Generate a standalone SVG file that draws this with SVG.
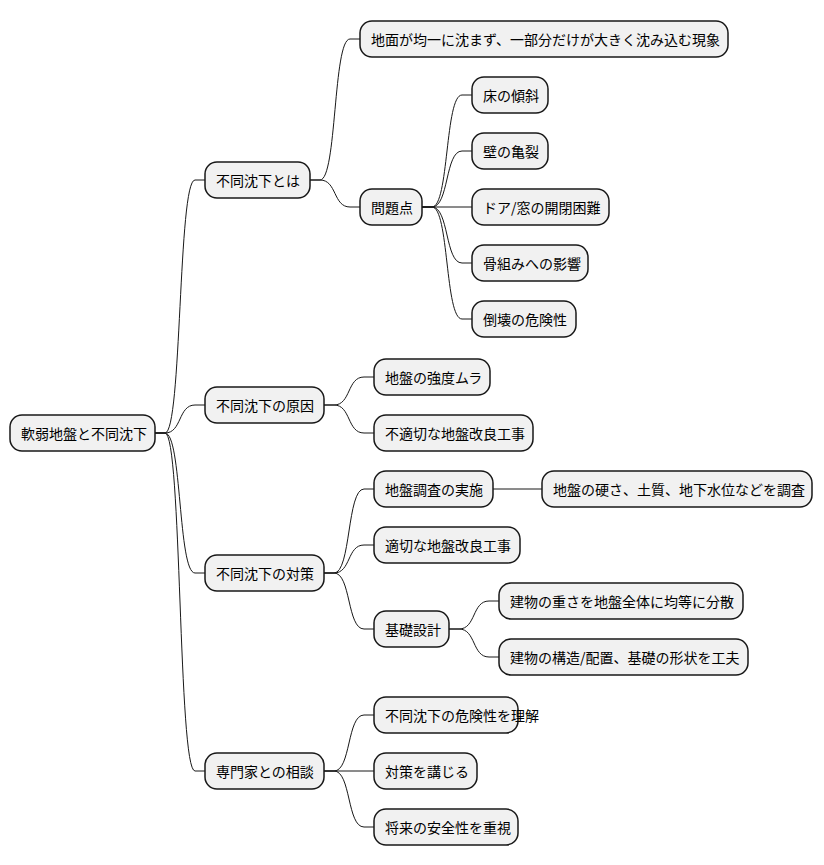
<svg xmlns="http://www.w3.org/2000/svg" width="824" height="865" viewBox="0 0 824 865">
<style>
.n rect{fill:#F1F1F1;stroke:#181818;stroke-width:1.5}
.n text{font-family:"Noto Sans CJK JP","Noto Sans",sans-serif;font-size:14px;fill:#000;dominant-baseline:central}
#edges path{fill:none;stroke:#181818;stroke-width:1}
</style>
<rect width="824" height="865" fill="#fff"/>
<g id="edges">
<path d="M155,433 L165,433 C182,433 178,180 195,180 L205,180"/>
<path d="M155,433 L165,433 C182,433 178,405 195,405 L205,405"/>
<path d="M155,433 L165,433 C182,433 178,573 195,573 L205,573"/>
<path d="M155,433 L165,433 C182,433 178,771 195,771 L205,771"/>
<path d="M310,180 L320,180 C337,180 333,39 350,39 L360,39"/>
<path d="M310,180 L320,180 C337,180 333,207 350,207 L360,207"/>
<path d="M422,207 L432,207 C449,207 445,95 462,95 L472,95"/>
<path d="M422,207 L432,207 C449,207 445,151 462,151 L472,151"/>
<path d="M422,207 L472,207"/>
<path d="M422,207 L432,207 C449,207 445,263 462,263 L472,263"/>
<path d="M422,207 L432,207 C449,207 445,319 462,319 L472,319"/>
<path d="M324,405 L334,405 C351,405 347,377 364,377 L374,377"/>
<path d="M324,405 L334,405 C351,405 347,433 364,433 L374,433"/>
<path d="M324,573 L334,573 C351,573 347,489 364,489 L374,489"/>
<path d="M324,573 L334,573 C351,573 347,545 364,545 L374,545"/>
<path d="M324,573 L334,573 C351,573 347,629 364,629 L374,629"/>
<path d="M493,489 L542,489"/>
<path d="M449,629 L459,629 C476,629 472,601 489,601 L499,601"/>
<path d="M449,629 L459,629 C476,629 472,657 489,657 L499,657"/>
<path d="M324,771 L334,771 C351,771 347,715 364,715 L374,715"/>
<path d="M324,771 L374,771"/>
<path d="M324,771 L334,771 C351,771 347,827 364,827 L374,827"/>
</g>
<g id="root" class="n"><rect x="10" y="415" width="145" height="36" rx="12"/><text x="21" y="433">軟弱地盤と不同沈下</text></g>
<g id="n1" class="n"><rect x="205" y="162" width="105" height="36" rx="12"/><text x="216" y="180">不同沈下とは</text></g>
<g id="n1a" class="n"><rect x="360" y="21" width="368" height="36" rx="12"/><text x="371" y="39">地面が均一に沈まず、一部分だけが大きく沈み込む現象</text></g>
<g id="n1b" class="n"><rect x="360" y="189" width="62" height="36" rx="12"/><text x="371" y="207">問題点</text></g>
<g id="p1" class="n"><rect x="472" y="77" width="76" height="36" rx="12"/><text x="483" y="95">床の傾斜</text></g>
<g id="p2" class="n"><rect x="472" y="133" width="76" height="36" rx="12"/><text x="483" y="151">壁の亀裂</text></g>
<g id="p3" class="n"><rect x="472" y="189" width="137" height="36" rx="12"/><text x="483" y="207">ドア/窓の開閉困難</text></g>
<g id="p4" class="n"><rect x="472" y="245" width="116" height="36" rx="12"/><text x="483" y="263">骨組みへの影響</text></g>
<g id="p5" class="n"><rect x="472" y="301" width="104" height="36" rx="12"/><text x="483" y="319">倒壊の危険性</text></g>
<g id="n2" class="n"><rect x="205" y="387" width="119" height="36" rx="12"/><text x="216" y="405">不同沈下の原因</text></g>
<g id="c1" class="n"><rect x="374" y="359" width="116" height="36" rx="12"/><text x="385" y="377">地盤の強度ムラ</text></g>
<g id="c2" class="n"><rect x="374" y="415" width="159" height="36" rx="12"/><text x="385" y="433">不適切な地盤改良工事</text></g>
<g id="n3" class="n"><rect x="205" y="555" width="119" height="36" rx="12"/><text x="216" y="573">不同沈下の対策</text></g>
<g id="d1" class="n"><rect x="374" y="471" width="119" height="36" rx="12"/><text x="385" y="489">地盤調査の実施</text></g>
<g id="d1a" class="n"><rect x="542" y="471" width="270" height="36" rx="12"/><text x="553" y="489">地盤の硬さ、土質、地下水位などを調査</text></g>
<g id="d2" class="n"><rect x="374" y="527" width="146" height="36" rx="12"/><text x="385" y="545">適切な地盤改良工事</text></g>
<g id="d3" class="n"><rect x="374" y="611" width="75" height="36" rx="12"/><text x="385" y="629">基礎設計</text></g>
<g id="d3a" class="n"><rect x="499" y="583" width="244" height="36" rx="12"/><text x="510" y="601">建物の重さを地盤全体に均等に分散</text></g>
<g id="d3b" class="n"><rect x="499" y="639" width="249" height="36" rx="12"/><text x="510" y="657">建物の構造/配置、基礎の形状を工夫</text></g>
<g id="n4" class="n"><rect x="205" y="753" width="119" height="36" rx="12"/><text x="216" y="771">専門家との相談</text></g>
<g id="e1" class="n"><rect x="374" y="697" width="144" height="36" rx="12"/><text x="385" y="715">不同沈下の危険性を理解</text></g>
<g id="e2" class="n"><rect x="374" y="753" width="103" height="36" rx="12"/><text x="385" y="771">対策を講じる</text></g>
<g id="e3" class="n"><rect x="374" y="809" width="144" height="36" rx="12"/><text x="385" y="827">将来の安全性を重視</text></g>
</svg>
